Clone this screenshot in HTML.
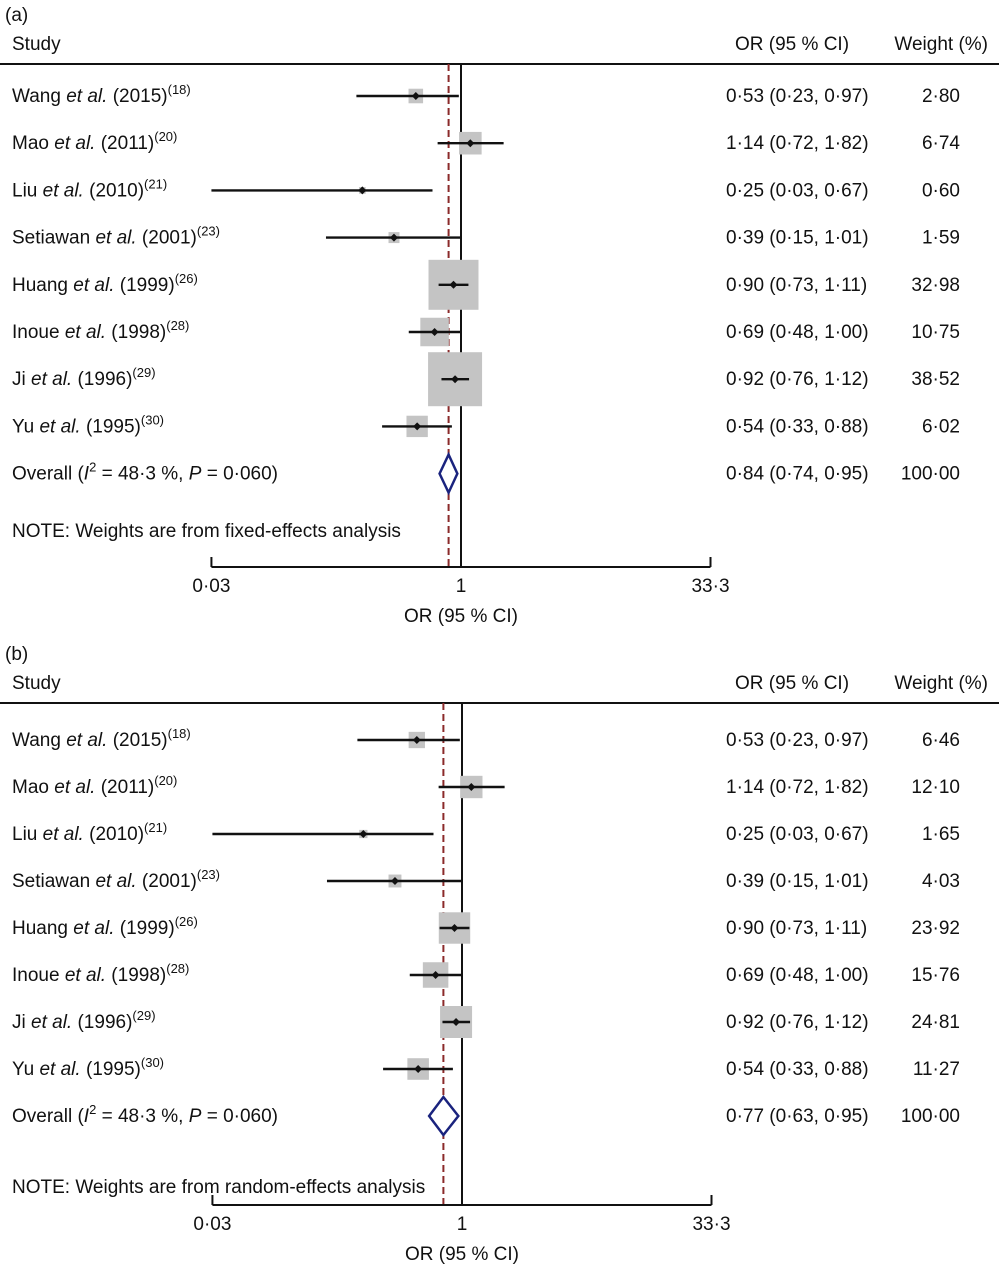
<!DOCTYPE html>
<html><head><meta charset="utf-8"><style>
body{margin:0;background:#fff}
svg{display:block;font-family:"Liberation Sans",Arial,sans-serif}
text{font-size:19px;fill:#111}
</style></head><body>
<svg id="chart" width="999" height="1267" viewBox="0 0 999 1267"></svg>
<script>
const studies = ["Wang","Mao","Liu","Setiawan","Huang","Inoue","Ji","Yu"];
const years = ["2015","2011","2010","2001","1999","1998","1996","1995"];
const refs = ["18","20","21","23","26","28","29","30"];
const orVals = [0.53,1.14,0.25,0.39,0.90,0.69,0.92,0.54];
const ciLow = [0.23,0.72,0.03,0.15,0.73,0.48,0.76,0.33];
const ciHigh = [0.97,1.82,0.67,1.01,1.11,1.00,1.12,0.88];
const weightsA = [2.80,6.74,0.60,1.59,32.98,10.75,38.52,6.02];
const weightsB = [6.46,12.10,1.65,4.03,23.92,15.76,24.81,11.27];
const overallA = [0.84,0.74,0.95];
const overallB = [0.77,0.63,0.95];
const tickVals = [0.03,1,33.3];
const tickLabels = ["0·03","1","33·3"];

const NS="http://www.w3.org/2000/svg";
const svg=document.getElementById('chart');
function mk(tag,attrs,parent){const e=document.createElementNS(NS,tag);for(const k in attrs)e.setAttribute(k,attrs[k]);(parent||svg).appendChild(e);return e;}
function fmt(v){return v.toFixed(2).replace('.','·');}

function panel(cfg){
  const g=mk('g',{});
  
  
  const cx=cfg.cx, half=249.5, L=Math.log(33.3);
  const xs=v=>cx+half*Math.log(v)/L;
  const t0=cfg.top;
  let t=mk('text',{x:5,y:t0+21},g);t.textContent=cfg.label;
  
  t=mk('text',{x:12,y:t0+50},g);t.textContent='Study';
  
  t=mk('text',{x:735,y:t0+50},g);t.textContent='OR (95 % CI)';
  
  t=mk('text',{x:988,y:t0+50,'text-anchor':'end'},g);t.textContent='Weight (%)';
  
  let l=mk('line',{x1:0,x2:999,y1:t0+64,y2:t0+64,stroke:'#111','stroke-width':2},g);
  
  const axY=cfg.axisY;
  l=mk('line',{x1:cx,x2:cx,y1:t0+64,y2:axY,stroke:'#111','stroke-width':2},g);
  
  const ov=cfg.overall;
  l=mk('line',{x1:xs(ov[0]),x2:xs(ov[0]),y1:t0+64,y2:axY,stroke:'#8b2a2a','stroke-width':2,'stroke-dasharray':'7,4'},g);
  
  const w=cfg.weights, wmax=Math.max(...w);
  for(let i=0;i<studies.length;i++){
    const y=t0+cfg.row0+i*cfg.rowH;
    const s=cfg.maxBox*Math.sqrt(w[i]/wmax);
    const r=mk('rect',{x:xs(orVals[i])-s/2,y:y-s/2,width:s,height:s,fill:'#c4c4c4'},g);
    
    const c=mk('line',{x1:xs(ciLow[i]),x2:xs(ciHigh[i]),y1:y,y2:y,stroke:'#111','stroke-width':2.4},g);
    
    const px=xs(orVals[i]);
    const p=mk('path',{d:`M${px-4},${y}L${px},${y-4}L${px+4},${y}L${px},${y+4}Z`,fill:'#111'},g);
    
    const tx=mk('text',{x:12,y:y+6},g);
    tx.innerHTML=studies[i]+' <tspan font-style="italic">et al.</tspan> ('+years[i]+')<tspan font-size="13" dy="-8">('+refs[i]+')</tspan>';
    
    const o=mk('text',{x:726,y:y+6},g);o.textContent=fmt(orVals[i])+' ('+fmt(ciLow[i])+', '+fmt(ciHigh[i])+')';
    
    const wt=mk('text',{x:960,y:y+6,'text-anchor':'end'},g);wt.textContent=fmt(w[i]);
    
  }
  const yo=t0+cfg.row0+8*cfg.rowH;
  const dh=19;
  const d=mk('path',{d:`M${xs(ov[1])},${yo}L${xs(ov[0])},${yo-dh}L${xs(ov[2])},${yo}L${xs(ov[0])},${yo+dh}Z`,fill:'#fff',stroke:'#1a237e','stroke-width':2.5},g);
  
  t=mk('text',{x:12,y:yo+6},g);
  t.innerHTML='Overall (<tspan font-style="italic">I</tspan><tspan font-size="13" dy="-8">2</tspan><tspan dy="8"> = 48·3 %, </tspan><tspan font-style="italic">P</tspan> = 0·060)';
  
  t=mk('text',{x:726,y:yo+6},g);t.textContent=fmt(ov[0])+' ('+fmt(ov[1])+', '+fmt(ov[2])+')';
  
  t=mk('text',{x:960,y:yo+6,'text-anchor':'end'},g);t.textContent='100·00';
  
  t=mk('text',{x:12,y:cfg.noteY},g);t.textContent=cfg.note;
  
  l=mk('line',{x1:xs(tickVals[0]),x2:xs(tickVals[2]),y1:axY,y2:axY,stroke:'#111','stroke-width':2},g);
  
  for(let i=0;i<tickVals.length;i++){
    const x=xs(tickVals[i]);
    const tk=mk('line',{x1:x,x2:x,y1:axY,y2:axY-10,stroke:'#111','stroke-width':2},g);
    
    const tl=mk('text',{x:x,y:axY+25,'text-anchor':'middle'},g);tl.textContent=tickLabels[i];
    
  }
  t=mk('text',{x:cx,y:axY+55,'text-anchor':'middle'},g);t.textContent='OR (95 % CI)';
  
}
panel({name:'panel-a-fixed-effects',label:'(a)',top:0,cx:461,row0:96,rowH:47.2,axisY:567,noteY:537,weights:weightsA,maxBox:54,overall:overallA,note:'NOTE: Weights are from fixed-effects analysis'});
panel({name:'panel-b-random-effects',label:'(b)',top:639,cx:462,row0:101,rowH:47,axisY:1205,noteY:1193,weights:weightsB,maxBox:32,overall:overallB,note:'NOTE: Weights are from random-effects analysis'});
</script>
</body></html>
